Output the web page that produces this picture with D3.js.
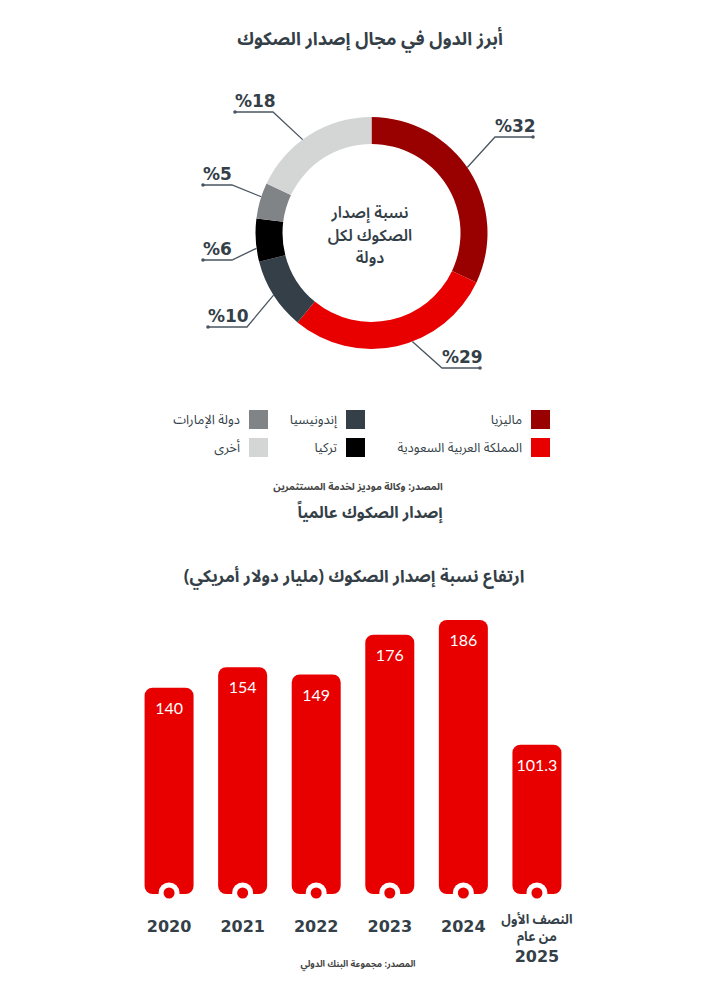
<!DOCTYPE html>
<html><head><meta charset="utf-8">
<script src="https://cdn.jsdelivr.net/npm/d3@7"></script>
<style>
body{margin:0;background:#fff;}
svg{display:block;}
.ar{font-family:"Noto Sans Arabic","DejaVu Sans",sans-serif;}
</style></head>
<body><svg id="c" width="720" height="1000"></svg>
<script>
// ---- Data ----
const shareCountries = ["ماليزيا","المملكة العربية السعودية","إندونيسيا","تركيا","دولة الإمارات","أخرى"];
const shareValues = [32, 29, 10, 6, 5, 18];
const shareColors = ["#990000","#e80000","#343f48","#000000","#808487","#d4d6d6"];
const shareLabels = ["%32","%29","%10","%6","%5","%18"];

const years = ["2020","2021","2022","2023","2024","2025H1"];
const issuance = [140, 154, 149, 176, 186, 101.3];
const issuanceLabels = ["140","154","149","176","186","101.3"];
const yearLabels = [["2020"],["2021"],["2022"],["2023"],["2024"],["النصف الأول","من عام","2025"]];

// ---- Layout ----
const dark = "#343f48";
const svg = d3.select("#c");

function txt(x, y, s, size, weight, color, anchor){
  return svg.append("text").attr("class","ar").attr("x",x).attr("y",y)
    .attr("text-anchor",anchor||"middle").attr("font-size",size)
    .attr("font-weight",weight).attr("fill",color||dark).text(s);
}
txt(370, 45, "أبرز الدول في مجال إصدار الصكوك", 18, "bold");

// Donut
const cx = 371.5, cy = 233, rOut = 116, rIn = 89;
const pie = d3.pie().sort(null).value(d=>d)(shareValues);
const arc = d3.arc().innerRadius(rIn).outerRadius(rOut);
const g = svg.append("g").attr("transform",`translate(${cx},${cy})`);
g.selectAll("path").data(pie).enter().append("path")
  .attr("d",arc).attr("fill",(d,i)=>shareColors[i]);

// label leader layout: elbow point, underline other end
const labelLayout = [
  {ex:495, ey:137, ux:533, tx:495, ang:-2},
  {ex:442, ey:368, ux:480, tx:442, ang:-8},
  {ex:247, ey:327, ux:208, tx:208, ang:0},
  {ex:232, ey:260, ux:203, tx:203, ang:-4},
  {ex:232, ey:185, ux:203, tx:203, ang:2},
  {ex:273, ey:112, ux:235, tx:235, ang:-4}
];
pie.forEach((d,i)=>{
  const L = labelLayout[i];
  const a = (d.startAngle + d.endAngle)/2 + L.ang*Math.PI/180;
  const px = cx + rOut*Math.sin(a), py = cy - rOut*Math.cos(a);
  svg.append("polyline").attr("points",`${px},${py} ${L.ex},${L.ey} ${L.ux},${L.ey}`)
    .attr("fill","none").attr("stroke","#4a5561").attr("stroke-width",1.3);
  svg.append("circle").attr("cx",L.ux).attr("cy",L.ey).attr("r",1.8).attr("fill","#4a5561");
  svg.append("text").attr("x",L.tx).attr("y",L.ey-5).attr("text-anchor","start")
    .attr("font-family","DejaVu Sans, sans-serif").attr("font-weight","bold")
    .attr("font-size",17).attr("fill",dark).text(shareLabels[i]);
});

// Donut center text
[["نسبة إصدار",218],["الصكوك لكل",241],["دولة",263]].forEach(([s,y])=>{
  txt(370, y, s, 16, 600);
});

// Legend
const legCols = [531, 346, 249];
const legRows = [410, 438];
shareCountries.forEach((name,i)=>{
  const col = Math.floor(i/2), row = i%2;
  const x = legCols[col], y = legRows[row];
  svg.append("rect").attr("x",x).attr("y",y).attr("width",19).attr("height",19).attr("fill",shareColors[i]);
  txt(x-9, y+14, name, 13, "normal", dark, "end");
});

txt(358, 490, "المصدر: وكالة موديز لخدمة المستثمرين", 10, "bold", "#444");
txt(370, 518, "إصدار الصكوك عالمياً", 16, "bold");
txt(354, 582, "ارتفاع نسبة إصدار الصكوك (مليار دولار أمريكي)", 17, "bold");

// Bar chart
const x = d3.scaleBand().domain(years).range([120, 586]).paddingInner(0.334).paddingOuter(0.334);
const y = d3.scaleLinear().domain([0, 186]).range([894, 620]);
const bars = svg.append("g");
bars.selectAll("rect").data(issuance).enter().append("rect")
  .attr("x",(d,i)=>x(years[i])).attr("y",d=>y(d))
  .attr("width",x.bandwidth()).attr("height",d=>y(0)-y(d))
  .attr("rx",8).attr("fill","#e80000");
bars.selectAll("circle.w").data(issuance).enter().append("circle").attr("class","w")
  .attr("cx",(d,i)=>x(years[i])+x.bandwidth()/2).attr("cy",y(0)-1).attr("r",10.5).attr("fill","#fff");
bars.selectAll("circle.r").data(issuance).enter().append("circle").attr("class","r")
  .attr("cx",(d,i)=>x(years[i])+x.bandwidth()/2).attr("cy",y(0)-1).attr("r",5.5).attr("fill","#e80000");
bars.selectAll("text.v").data(issuance).enter().append("text").attr("class","v")
  .attr("x",(d,i)=>x(years[i])+x.bandwidth()/2).attr("y",d=>y(d)+26)
  .attr("text-anchor","middle").attr("font-family","Lato, sans-serif").attr("font-size",16)
  .attr("fill","#fff").text((d,i)=>issuanceLabels[i]);

// x labels
yearLabels.forEach((lines,i)=>{
  const cxl = x(years[i]) + x.bandwidth()/2;
  if(lines.length===1){
    svg.append("text").attr("x",cxl).attr("y",932).attr("text-anchor","middle")
      .attr("font-family","DejaVu Sans, sans-serif").attr("font-weight","bold").attr("font-size",16)
      .attr("fill",dark).text(lines[0]);
  } else {
    txt(cxl, 924, lines[0], 13, "bold");
    txt(cxl, 941, lines[1], 13, "bold");
    svg.append("text").attr("x",cxl).attr("y",962).attr("text-anchor","middle")
      .attr("font-family","DejaVu Sans, sans-serif").attr("font-weight","bold").attr("font-size",16)
      .attr("fill",dark).text(lines[2]);
  }
});
txt(358, 967, "المصدر: مجموعة البنك الدولي", 9, "bold", "#444");
</script></body></html>
